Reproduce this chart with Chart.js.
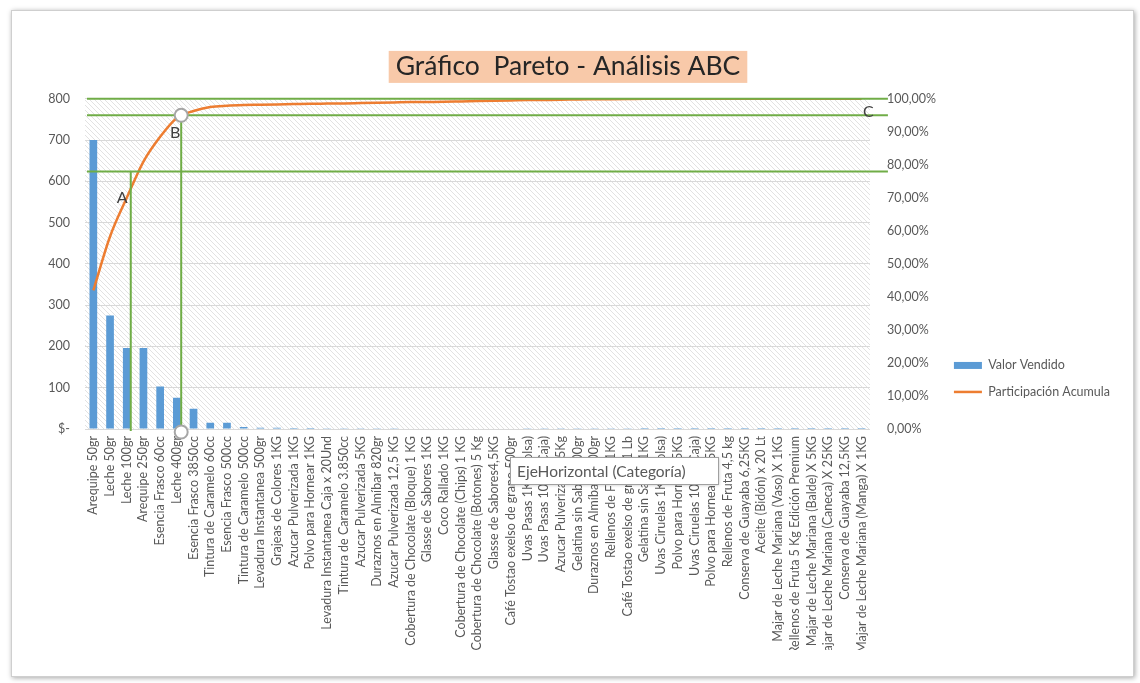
<!DOCTYPE html>
<html>
<head>
<meta charset="utf-8">
<script src="https://cdn.jsdelivr.net/npm/chart.js@4.4.1/dist/chart.umd.min.js"></script>
<style>
html, body { margin: 0; padding: 0; background: #fff; }
#frame { position: absolute; left: 11px; top: 10px; width: 1121px; height: 665px; border: 1px solid #cfcfcf; box-shadow: 1px 1px 5px rgba(0,0,0,0.35); background: #fff; }
#wrap { position: absolute; left: 0; top: 0; width: 1140px; height: 650px; }
</style>
</head>
<body>
<div id="frame"></div>
<div id="wrap"><canvas id="myChart"></canvas></div>
<script>
var categorias = [
    'Arequipe 50gr', 'Leche 50gr', 'Leche 100gr', 'Arequipe 250gr', 'Esencia Frasco 60cc',
    'Leche 400gr', 'Esencia Frasco 3850cc', 'Tintura de Caramelo 60cc', 'Esencia Frasco 500cc',
    'Tintura de Caramelo 500cc', 'Levadura Instantanea 500gr', 'Grajeas de Colores 1KG',
    'Azucar Pulverizada 1KG', 'Polvo para Hornear 1KG', 'Levadura Instantanea Caja x 20Und',
    'Tintura de Caramelo 3.850cc', 'Azucar Pulverizada 5KG', 'Duraznos en Almíbar 820gr',
    'Azucar Pulverizada 12,5 KG', 'Cobertura de Chocolate (Bloque) 1 KG', 'Glasse de Sabores 1KG',
    'Coco Rallado 1KG', 'Cobertura de Chocolate (Chips) 1 KG', 'Cobertura de Chocolate (Botones) 5 Kg',
    'Glasse de Sabores4,5KG', 'Café Tostao exelso de grano 500gr', 'Uvas Pasas 1Kg (Bolsa)',
    'Uvas Pasas 10Kg (Caja)', 'Azucar Pulverizada 25Kg', 'Gelatina sin Sabor 500gr',
    'Duraznos en Almíbar 3000gr', 'Rellenos de Fruta 1KG', 'Café Tostao exelso de grano 1 Lb',
    'Gelatina sin Sabor 1KG', 'Uvas Ciruelas 1Kg (Bolsa)', 'Polvo para Hornear 5KG',
    'Uvas Ciruelas 10Kg (Caja)', 'Polvo para Hornear 12,5KG', 'Rellenos de Fruta 4,5 kg',
    'Conserva de Guayaba 6,25KG', 'Aceite (Bidón) x 20 Lt', 'Majar de Leche Mariana (Vaso) X 1KG',
    'Rellenos de Fruta 5 Kg Edición Premium', 'Majar de Leche Mariana (Balde) X 5KG',
    'Majar de Leche Mariana (Caneca) X 25KG', 'Conserva de Guayaba 12,5KG',
    'Majar de Leche Mariana (Manga) X 1KG'
];

var valorVendido = [
    700, 275, 196, 196, 103, 76, 49, 15, 15, 5,
    3, 3, 2.5, 2.5, 2, 2, 2, 1.8, 1.6, 1.5,
    1.4, 1.3, 1.2, 1.1, 1, 1, 0.9, 0.8, 0.7, 0.6,
    0.5, 0.5, 0.4, 0.3, 0.3, 0.2, 0.2, 0.2, 0.1, 0.1,
    0.1, 0.1, 0.1, 0.1, 0.1, 0.1, 0.1
];

// participación acumulada en %
var participacion = [
    42.0, 58.3, 70.0, 81.0, 88.5, 94.2, 96.3, 97.5, 97.9, 98.1,
    98.2, 98.3, 98.4, 98.5, 98.55, 98.6, 98.7, 98.8, 98.9, 99.0,
    99.05, 99.1, 99.2, 99.3, 99.4, 99.5, 99.6, 99.65, 99.7, 99.8,
    99.85, 99.9, 99.95, 100, 100, 100, 100, 100, 100, 100,
    100, 100, 100, 100, 100, 100, 100
];

var valorMax = 800, valorPaso = 100;
var pctMax = 100, pctPaso = 10;

// cortes ABC (en % del eje derecho)
var nivelesABC = [78, 95, 100];
var cortesABC = [{ idx: 2.24, pct: 78 }, { idx: 5.26, pct: 95 }];
var letrasABC = [{ t: 'A', idx: 1.72, pct: 69.9 }, { t: 'B', idx: 4.9, pct: 89.8 }, { t: 'C', idx: 46.4, pct: 96.2 }];

var FONT = 'Lato, "Open Sans", sans-serif';
var GRIS = '#595959';
var VERDE = '#70AD47';
var TAM = 12.5;

function xAt(scale, v) {
    var i = Math.floor(v), f = v - i;
    var a = scale.getPixelForValue(i), b = scale.getPixelForValue(i + 1);
    return a + (b - a) * f;
}

function rayado() {
    var s = 5;
    var c = document.createElement('canvas');
    c.width = s; c.height = s;
    var g = c.getContext('2d');
    g.strokeStyle = '#e2e2e2';
    g.lineWidth = 1;
    g.beginPath();
    g.moveTo(0, 0); g.lineTo(s, s);
    g.moveTo(s - 1, -1); g.lineTo(s + 1, 1);
    g.moveTo(-1, s - 1); g.lineTo(1, s + 1);
    g.stroke();
    return c;
}

var fondoPlugin = {
    id: 'fondo',
    beforeDraw: function (chart) {
        var ctx = chart.ctx, a = chart.chartArea;
        ctx.save();
        ctx.fillStyle = ctx.createPattern(rayado(), 'repeat');
        ctx.fillRect(a.left, a.top, a.right - a.left, a.bottom - a.top);
        // fondo del titulo
        var t = chart.titleBlock;
        var f = chart.options.plugins.title.font;
        ctx.font = f.weight + ' ' + f.size + 'px ' + f.family;
        var w = ctx.measureText(chart.options.plugins.title.text).width;
        var cx = (t.left + t.right) / 2;
        var cy = t.top + f.size * 1.2 / 2;
        ctx.fillStyle = '#F8C9A9';
        ctx.fillRect(cx - w / 2 - 7, cy - 16, w + 14, 32);
        ctx.restore();
    }
};

var abcPlugin = {
    id: 'abc',
    afterDraw: function (chart) {
        var ctx = chart.ctx, a = chart.chartArea;
        var x = chart.scales.x, y1 = chart.scales.y1;
        ctx.save();
        ctx.strokeStyle = VERDE;
        ctx.lineWidth = 2;
        nivelesABC.forEach(function (p) {
            var yy = y1.getPixelForValue(p);
            ctx.beginPath();
            ctx.moveTo(a.left + 2, yy);
            ctx.lineTo(a.right + 18, yy);
            ctx.stroke();
        });
        cortesABC.forEach(function (c) {
            var xx = xAt(x, c.idx);
            ctx.beginPath();
            ctx.moveTo(xx, y1.getPixelForValue(c.pct));
            ctx.lineTo(xx, a.bottom + 2);
            ctx.stroke();
        });
        // circulos del corte B
        var cb = cortesABC[1];
        [cb.pct, 0].forEach(function (p) {
            ctx.beginPath();
            ctx.arc(xAt(x, cb.idx), y1.getPixelForValue(p) + (p === 0 ? 3 : 0), 6.5, 0, Math.PI * 2);
            ctx.fillStyle = '#fff';
            ctx.fill();
            ctx.strokeStyle = '#a6a6a6';
            ctx.stroke();
        });
        ctx.fillStyle = '#404040';
        ctx.font = '16px ' + FONT;
        ctx.textAlign = 'center';
        ctx.textBaseline = 'middle';
        letrasABC.forEach(function (l) {
            ctx.fillText(l.t, xAt(x, l.idx), y1.getPixelForValue(l.pct));
        });
        // recuadro de ayuda del eje
        var bx = 510, by = 457, bw = 208, bh = 27;
        ctx.shadowColor = 'rgba(0,0,0,0.25)';
        ctx.shadowBlur = 3;
        ctx.shadowOffsetX = 1;
        ctx.shadowOffsetY = 1;
        ctx.fillStyle = '#fff';
        ctx.fillRect(bx, by, bw, bh);
        ctx.shadowColor = 'transparent';
        ctx.strokeStyle = '#a0a0a0';
        ctx.lineWidth = 1;
        ctx.strokeRect(bx + 0.5, by + 0.5, bw, bh);
        ctx.fillStyle = GRIS;
        ctx.font = '15.5px ' + FONT;
        ctx.textAlign = 'left';
        ctx.fillText('EjeHorizontal (Categoría)', bx + 7, by + bh / 2 + 1);
        ctx.restore();
    }
};

var ctx = document.getElementById('myChart').getContext('2d');
var myChart = new Chart(ctx, {
    data: {
        labels: categorias,
        datasets: [{
            type: 'line',
            label: 'Participación Acumula',
            data: participacion,
            yAxisID: 'y1',
            borderColor: '#ED7D31',
            backgroundColor: '#ED7D31',
            borderWidth: 2.5,
            pointRadius: 0,
            pointStyle: 'line',
            cubicInterpolationMode: 'monotone',
            order: 0
        }, {
            type: 'bar',
            label: 'Valor Vendido',
            data: valorVendido,
            yAxisID: 'y',
            backgroundColor: '#5B9BD5',
            borderWidth: 0,
            pointStyle: 'rect',
            barPercentage: 0.46,
            categoryPercentage: 1,
            order: 1
        }]
    },
    options: {
        responsive: true,
        maintainAspectRatio: false,
        animation: false,
        layout: { padding: { top: 51, left: 16, right: 20, bottom: 0 } },
        plugins: {
            title: {
                display: true,
                text: 'Gráfico  Pareto - Análisis ABC',
                color: '#262626',
                font: { family: FONT, size: 26.5, weight: 'normal' },
                padding: { top: 0, bottom: 16 }
            },
            legend: {
                position: 'right',
                reverse: true,
                title: { display: true, text: ' ', padding: 21, font: { family: FONT, size: 12 } },
                labels: {
                    usePointStyle: true,
                    pointStyleWidth: 28,
                    boxHeight: 7,
                    color: GRIS,
                    padding: 14,
                    font: { family: FONT, size: TAM }
                }
            },
            tooltip: { enabled: false }
        },
        scales: {
            x: {
                grid: { display: false, drawTicks: false },
                border: { display: false },
                ticks: {
                    autoSkip: false,
                    minRotation: 90,
                    maxRotation: 90,
                    padding: 7,
                    color: GRIS,
                    font: { family: FONT, size: TAM }
                },
                afterFit: function (s) { s.height = 221; }
            },
            y: {
                position: 'left',
                min: 0,
                max: valorMax,
                grid: { color: '#d9d9d9', drawTicks: false },
                border: { display: false },
                ticks: {
                    stepSize: valorPaso,
                    padding: 15,
                    color: GRIS,
                    font: { family: FONT, size: TAM },
                    callback: function (v) { return v === 0 ? '$-' : v; }
                },
                afterFit: function (s) { s.width = 69; }
            },
            y1: {
                position: 'right',
                min: 0,
                max: pctMax,
                grid: { display: false, drawTicks: false },
                border: { display: false },
                ticks: {
                    stepSize: pctPaso,
                    padding: 17,
                    color: GRIS,
                    font: { family: FONT, size: TAM },
                    callback: function (v) { return v.toFixed(2).replace('.', ',') + '%'; }
                },
                afterFit: function (s) { s.width = 70; }
            }
        }
    },
    plugins: [fondoPlugin, abcPlugin]
});
</script>
</body>
</html>
